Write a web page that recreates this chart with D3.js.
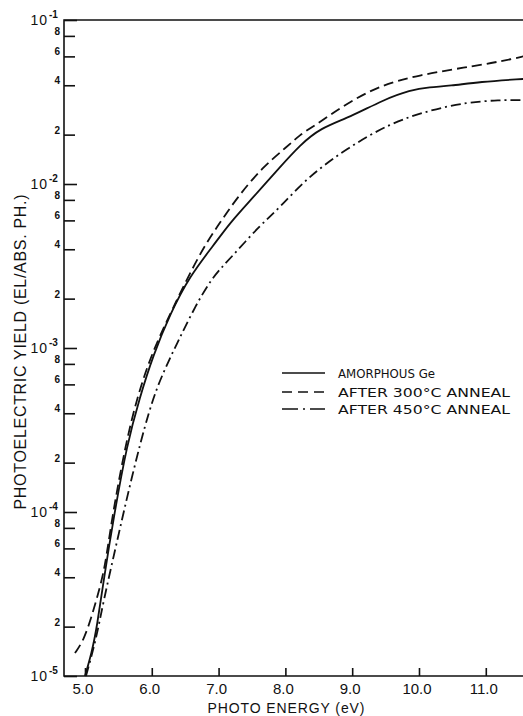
<!DOCTYPE html>
<html>
<head>
<meta charset="utf-8">
<script src="https://cdn.jsdelivr.net/npm/d3@7"></script>
<style>
  body { margin: 0; background: #fff; }
  svg { display: block; }
  text { font-family: "Liberation Sans", Arial, sans-serif; fill: #111; }
  .legend text { font-family: "DejaVu Sans", sans-serif; }
</style>
</head>
<body>
<svg id="chart"></svg>
<script>
// Photoelectric yield of amorphous Ge, as-deposited and after anneals
const W = 523, H = 716;
const margin = { top: 20, right: 0, bottom: 40, left: 64 };

// Data (energy in eV, yield in el/abs. ph.)
const amorphousE = [5.00, 5.10, 5.18, 5.28, 5.43, 5.63, 5.82, 6.02, 6.27, 6.57, 6.92, 7.17, 7.52, 7.92, 8.22, 8.52, 8.97, 9.46, 9.87, 10.16, 10.46, 10.91, 11.56];
const amorphousY = [1.0e-5, 1.38e-5, 2.0e-5, 3.85e-5, 9.3e-5, 2.6e-4, 5.0e-4, 9.0e-4, 1.6e-3, 2.75e-3, 4.2e-3, 5.8e-3, 8.3e-3, 1.27e-2, 1.73e-2, 2.19e-2, 2.56e-2, 3.25e-2, 3.74e-2, 3.9e-2, 3.96e-2, 4.2e-2, 4.37e-2];

const anneal300E = [4.85, 4.98, 5.10, 5.20, 5.30, 5.40, 5.60, 5.78, 6.00, 6.30, 6.72, 6.98, 7.28, 7.66, 8.02, 8.22, 8.41, 8.92, 9.42, 10.01, 10.72, 11.09, 11.39, 11.56];
const anneal300Y = [1.38e-5, 1.65e-5, 2.3e-5, 3.2e-5, 4.6e-5, 9.0e-5, 2.5e-4, 5.0e-4, 9.3e-4, 1.7e-3, 3.8e-3, 5.5e-3, 8.3e-3, 1.27e-2, 1.68e-2, 2.0e-2, 2.23e-2, 3.1e-2, 4.0e-2, 4.63e-2, 5.16e-2, 5.47e-2, 5.78e-2, 6.0e-2];

const anneal450E = [5.015, 5.165, 5.28, 5.46, 5.69, 5.97, 6.17, 6.38, 6.62, 6.90, 7.20, 7.60, 7.92, 8.32, 8.92, 9.57, 10.16, 10.72, 11.20, 11.56];
const anneal450Y = [1.0e-5, 1.66e-5, 2.9e-5, 6.1e-5, 1.58e-4, 4.4e-4, 7.1e-4, 1.07e-3, 1.7e-3, 2.7e-3, 3.6e-3, 5.5e-3, 7.2e-3, 1.09e-2, 1.65e-2, 2.35e-2, 2.82e-2, 3.15e-2, 3.25e-2, 3.25e-2];

const seriesNames = ['AMORPHOUS Ge', 'AFTER 300\u00B0C ANNEAL', 'AFTER 450\u00B0C ANNEAL'];
const xTicks = [5, 6, 7, 8, 9, 10, 11];
const xTickLabels = ['5.0', '6.0', '7.0', '8.0', '9.0', '10.0', '11.0'];
const decades = [1e-5, 1e-4, 1e-3, 1e-2, 1e-1];
const decadeExp = ['-5', '-4', '-3', '-2', '-1'];
const minorMult = [2, 4, 6, 8];

const dashes = [null, '10,5', '10,4,2,4'];
const legendDashes = [null, '10,6', '16,5,2,5'];

const svg = d3.select('#chart').attr('width', W).attr('height', H);

// Scales
const x = d3.scaleLinear()
  .domain([4.686, 11.557])
  .range([margin.left, W - margin.right]);

const y = d3.scaleLog()
  .domain([1e-5, 1e-1])
  .range([H - margin.bottom, margin.top]);

// Frame: left, bottom and top lines
svg.append('path')
  .attr('d', `M${W},${margin.top}H${margin.left}V${H - margin.bottom}H${W}`)
  .attr('fill', 'none')
  .attr('stroke', '#111')
  .attr('stroke-width', 1.6);

// Y ticks (inside)
const minorTicks = [];
decades.slice(0, -1).forEach(d => minorMult.forEach(m => minorTicks.push(d * m)));

svg.append('g')
  .attr('transform', `translate(${margin.left},0)`)
  .call(d3.axisLeft(y).tickValues(decades).tickSize(-13).tickFormat(''))
  .call(g => g.select('.domain').remove())
  .call(g => g.selectAll('line').attr('stroke', '#111').attr('stroke-width', 1.6));

svg.append('g')
  .attr('transform', `translate(${margin.left},0)`)
  .call(d3.axisLeft(y).tickValues(minorTicks).tickSize(-11).tickFormat(''))
  .call(g => g.select('.domain').remove())
  .call(g => g.selectAll('line').attr('stroke', '#111').attr('stroke-width', 1.6));

// Decade labels 10^-n
decades.forEach((d, i) => {
  svg.append('text')
    .attr('x', 48)
    .attr('y', y(d) + 5)
    .attr('text-anchor', 'end')
    .attr('letter-spacing', '1px')
    .style('font-size', '14px')
    .text('10');
  svg.append('text')
    .attr('x', 49)
    .attr('y', y(d) - 2)
    .style('font-size', '10px')
    .style('font-weight', 'bold')
    .text(decadeExp[i]);
});

// Minor labels
minorTicks.forEach(v => {
  const m = Math.round(v / Math.pow(10, Math.floor(Math.log10(v) + 1e-9)));
  svg.append('text')
    .attr('x', 60)
    .attr('y', y(v) - 1)
    .attr('text-anchor', 'end')
    .style('font-size', '10px')
    .style('font-weight', 'bold')
    .text(m);
});

// X ticks (inside)
svg.append('g')
  .attr('transform', `translate(0,${H - margin.bottom})`)
  .call(d3.axisBottom(x).tickValues(xTicks).tickSize(-8).tickFormat(''))
  .call(g => g.select('.domain').remove())
  .call(g => g.selectAll('line').attr('stroke', '#111').attr('stroke-width', 1.6));

xTicks.forEach((t, i) => {
  svg.append('text')
    .attr('x', x(t) - 2)
    .attr('y', 694)
    .attr('text-anchor', 'middle')
    .style('font-size', '15px')
    .text(xTickLabels[i]);
});

// Axis titles
svg.append('text')
  .attr('x', 286)
  .attr('y', 713)
  .attr('text-anchor', 'middle')
  .attr('textLength', 157)
  .attr('lengthAdjust', 'spacing')
  .style('font-size', '14px')
  .text('PHOTO ENERGY (eV)');

svg.append('text')
  .attr('transform', 'rotate(-90)')
  .attr('x', -352)
  .attr('y', 26)
  .attr('text-anchor', 'middle')
  .attr('textLength', 315)
  .attr('lengthAdjust', 'spacing')
  .style('font-size', '16px')
  .text('PHOTOELECTRIC YIELD (EL/ABS. PH.)');

// Curves
const line = d3.line()
  .x(d => x(d[0]))
  .y(d => y(d[1]))
  .curve(d3.curveBasis);

const series = [
  d3.zip(amorphousE, amorphousY),
  d3.zip(anneal300E, anneal300Y),
  d3.zip(anneal450E, anneal450Y)
];

series.forEach((pts, i) => {
  svg.append('path')
    .datum(pts)
    .attr('fill', 'none')
    .attr('stroke', '#111')
    .attr('stroke-width', 1.8)
    .attr('stroke-dasharray', dashes[i])
    .attr('d', line);
});

// Legend
const legend = svg.append('g').attr('class', 'legend');
const legendY = [373, 392, 409];
const legendLen = [97, 172, 172];
seriesNames.forEach((name, i) => {
  legend.append('line')
    .attr('x1', 282).attr('x2', 325)
    .attr('y1', legendY[i]).attr('y2', legendY[i])
    .attr('stroke', '#111')
    .attr('stroke-width', 1.4)
    .attr('stroke-dasharray', legendDashes[i]);
  legend.append('text')
    .attr('x', 338)
    .attr('y', legendY[i] + 4.5)
    .attr('textLength', legendLen[i])
    .attr('lengthAdjust', 'spacingAndGlyphs')
    .style('font-size', '12px')
    .text(name);
});
</script>
</body>
</html>
